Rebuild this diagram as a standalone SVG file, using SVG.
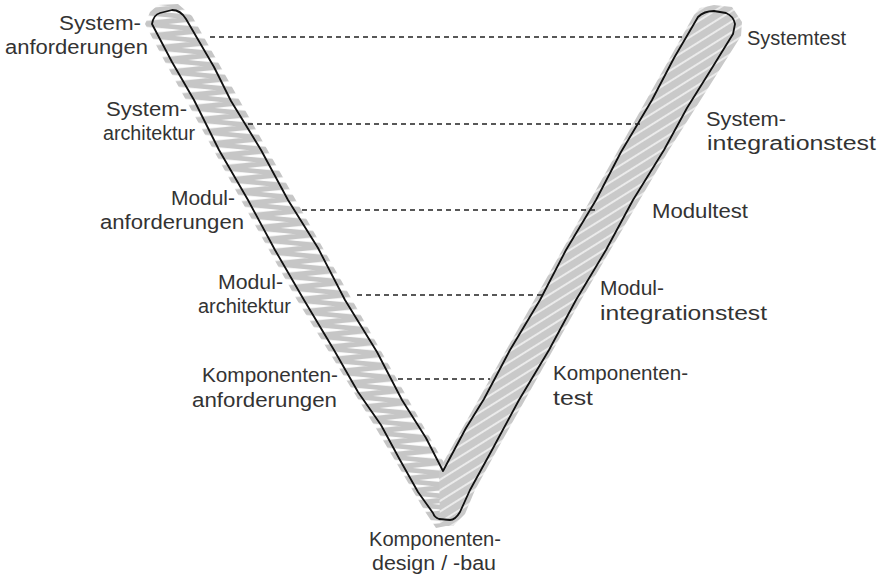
<svg xmlns="http://www.w3.org/2000/svg" width="880" height="576" viewBox="0 0 880 576">
  <style>
    text { font-family: "Liberation Sans", Arial, sans-serif; font-size: 20px; fill: #333; }
    .l { text-anchor: end; }
    .c { text-anchor: middle; }
    .dash { stroke: #222; stroke-width: 1.3; stroke-dasharray: 5 4; fill: none; }
    .outline { fill: none; stroke: #111; stroke-width: 1.8; stroke-linejoin: round; stroke-linecap: round; }
  </style>
  <defs>
    <!-- zigzag scribble following the left arm's slope -->
    <pattern id="zigLeft" patternUnits="userSpaceOnUse" x="126" y="0" width="80" height="12" patternTransform="skewX(28.8)">
      <path d="M3,0 L66,6 L3,12" fill="none" stroke="#c6c6c6" stroke-width="5" stroke-linejoin="round"/>
    </pattern>
    <!-- hachure for the right arm: gray with fine light gaps -->
    <pattern id="hatchRight" patternUnits="userSpaceOnUse" width="9" height="9" patternTransform="rotate(-32)">
      <rect width="9" height="9" fill="#c9c9c9"/>
      <line x1="0" y1="1" x2="9" y2="1" stroke="#f4f4f4" stroke-width="1.6"/>
    </pattern>
  </defs>

  <!-- V shape: scribbled fills plus sketched outline -->
  <g id="v-shape">
    <path d="M145,24 L150,12 L158,5 L178,4 L192,16 L447,468 L446,526 L436,528 L426,513 L374,425 L297,300 L241,200 L165,62 Z" fill="url(#zigLeft)"/>
    <path d="M439,470 L694,15 L700,8 L714,5 L732,7 L742,22 L741,36 L669,150 L581,300 L497,450 L475,490 L465,514 L453,526 L440,526 Z" fill="url(#hatchRight)"/>
    <path class="outline" d="M152,24 C153,18 156,14 160,13 L172,10 C178,10 183,14 186,19
      L214,67 L231,101 L261,150 L288,200 L318,248 L345,300 L377,352 L402,400 L426,438 L443,471
      L466,428 L484,399 L510,350 L540,300 L566,250 L596,200 L621,152 L652,100 L674,58 L698,17
      C702,13 708,11 714,11 L726,13 C731,15 734,19 735,24 L733,34
      L712,68 L687,108 L664,150 L633,200 L606,250 L576,300 L549,350 L519,400 L492,450 L470,490
      L460,512 C457,517 454,520 450,520 L439,519 C436,518 434,516 433,513
      L418,492 L400,460 L381,425 L358,392 L334,350 L304,300 L275,250 L248,200 L219,150 L194,100 L172,62 Z"/>
  </g>

  <!-- horizontal correspondences between phases -->
  <g id="connectors">
    <line class="dash" x1="210" y1="37" x2="682" y2="37"/>
    <line class="dash" x1="248" y1="124" x2="640" y2="124"/>
    <line class="dash" x1="302" y1="210" x2="598" y2="210"/>
    <line class="dash" x1="357" y1="295" x2="543" y2="295"/>
    <line class="dash" x1="398" y1="379" x2="490" y2="379"/>
  </g>

  <!-- left side: specification phases -->
  <g id="systemanforderungen">
    <text class="l" x="141" y="30" textLength="82" lengthAdjust="spacingAndGlyphs">System-</text>
    <text class="l" x="148" y="54" textLength="143" lengthAdjust="spacingAndGlyphs">anforderungen</text>
  </g>
  <g id="systemarchitektur">
    <text class="l" x="187" y="116" textLength="81" lengthAdjust="spacingAndGlyphs">System-</text>
    <text class="l" x="195" y="140" textLength="92" lengthAdjust="spacingAndGlyphs">architektur</text>
  </g>
  <g id="modulanforderungen">
    <text class="l" x="235" y="205" textLength="64" lengthAdjust="spacingAndGlyphs">Modul-</text>
    <text class="l" x="244" y="229" textLength="144" lengthAdjust="spacingAndGlyphs">anforderungen</text>
  </g>
  <g id="modularchitektur">
    <text class="l" x="283" y="289" textLength="65" lengthAdjust="spacingAndGlyphs">Modul-</text>
    <text class="l" x="291" y="313" textLength="93" lengthAdjust="spacingAndGlyphs">architektur</text>
  </g>
  <g id="komponentenanforderungen">
    <text class="l" x="338" y="382" textLength="136" lengthAdjust="spacingAndGlyphs">Komponenten-</text>
    <text class="l" x="337" y="407" textLength="145" lengthAdjust="spacingAndGlyphs">anforderungen</text>
  </g>

  <!-- bottom: implementation -->
  <g id="komponentendesign">
    <text class="c" x="435" y="546" textLength="132" lengthAdjust="spacingAndGlyphs">Komponenten-</text>
    <text class="c" x="434" y="570" textLength="124" lengthAdjust="spacingAndGlyphs">design / -bau</text>
  </g>

  <!-- right side: test phases -->
  <g id="systemtest">
    <text x="747" y="45" textLength="99" lengthAdjust="spacingAndGlyphs">Systemtest</text>
  </g>
  <g id="systemintegrationstest">
    <text x="706" y="126" textLength="80" lengthAdjust="spacingAndGlyphs">System-</text>
    <text x="707" y="150" textLength="169" lengthAdjust="spacingAndGlyphs">integrationstest</text>
  </g>
  <g id="modultest">
    <text x="652" y="218" textLength="96" lengthAdjust="spacingAndGlyphs">Modultest</text>
  </g>
  <g id="modulintegrationstest">
    <text x="600" y="295" textLength="64" lengthAdjust="spacingAndGlyphs">Modul-</text>
    <text x="600" y="320" textLength="167" lengthAdjust="spacingAndGlyphs">integrationstest</text>
  </g>
  <g id="komponententest">
    <text x="553" y="380" textLength="135" lengthAdjust="spacingAndGlyphs">Komponenten-</text>
    <text x="553" y="405" textLength="40" lengthAdjust="spacingAndGlyphs">test</text>
  </g>
</svg>
